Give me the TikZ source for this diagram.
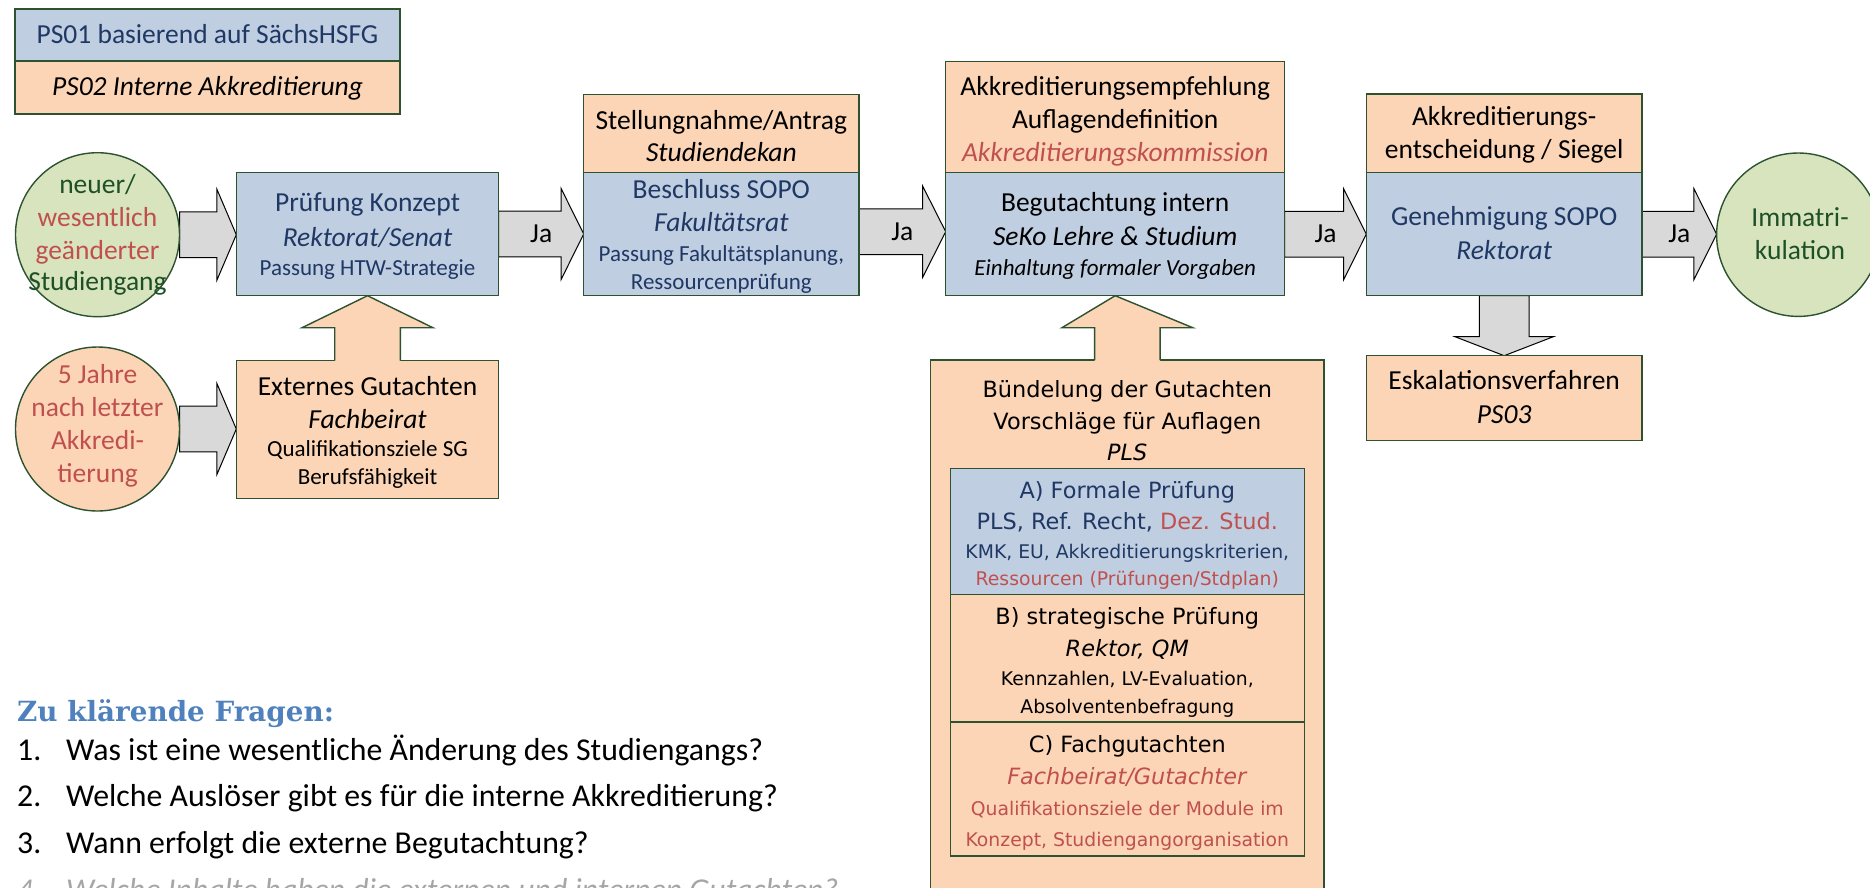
\documentclass[tikz,border=0pt]{standalone}
\usepackage{fontspec}
\setmainfont{Carlito}
\newfontfamily\verd{DejaVu Sans}
\newfontfamily\headf{DejaVu Serif}
\usetikzlibrary{calc}
\definecolor{bluef}{RGB}{192,206,226}
\definecolor{peachf}{RGB}{251,213,182}
\definecolor{greenf}{RGB}{215,228,189}
\definecolor{grayf}{RGB}{217,217,217}
\definecolor{edgec}{RGB}{44,82,48}
\definecolor{navyc}{RGB}{31,56,100}
\definecolor{redc}{RGB}{192,80,77}
\definecolor{greenc}{RGB}{30,80,40}
\definecolor{headc}{RGB}{79,129,189}
\definecolor{listgray}{RGB}{166,166,166}
\newcommand{\fA}{\fontsize{27.5}{33}\selectfont}
\newcommand{\fB}{\fontsize{23}{28}\selectfont}
\newcommand{\fV}{\verd\fontsize{22.4}{31.5}\selectfont}
\newcommand{\fVs}{\fontsize{18.8}{28}\selectfont}
\newcommand{\fL}{\fontsize{31.8}{38}\selectfont}
\newcommand{\tn}[5]{\node[#1] (#2) at (#3,{#4-24}) {\rule{0pt}{24pt}#5};}
\newcommand{\harrowb}[3]{%
  \draw[garrow] let \p1=#1, \p2=#2 in
  (\x1,\y1+22.8pt) -- (\x2-#3,\y1+22.8pt) -- (\x2-#3,\y1+45.5pt) -- (\x2,\y1)
  -- (\x2-#3,\y1-45.5pt) -- (\x2-#3,\y1-22.8pt) -- (\x1,\y1-22.8pt) -- cycle;}
\newcommand{\jalabel}[3]{%
  \path let \p1=#1, \p2=#2 in node[jalab] (#3) at ({(\x1+\x2)/2},{\y1-8.7pt}) {Ja};}
\newcommand{\peachup}[2]{%
  \fill[peachf] let \p1=#1, \p2=#2 in
  (\x1-32.8pt,\y1-2pt) -- (\x1-32.8pt,\y2-32pt) -- (\x1-65.4pt,\y2-32pt) -- (\x2,\y2)
  -- (\x1+65.4pt,\y2-32pt) -- (\x1+32.8pt,\y2-32pt) -- (\x1+32.8pt,\y1-2pt) -- cycle;
  \draw[edgeline] let \p1=#1, \p2=#2 in
  (\x1-32.8pt,\y1) -- (\x1-32.8pt,\y2-32pt) -- (\x1-65.4pt,\y2-32pt) -- (\x2,\y2)
  -- (\x1+65.4pt,\y2-32pt) -- (\x1+32.8pt,\y2-32pt) -- (\x1+32.8pt,\y1);}
\pgfdeclarelayer{bg}
\pgfsetlayers{bg,main}
\begin{document}
\begin{tikzpicture}[x=1pt,y=-1pt,
  box/.style={rectangle,inner sep=0pt,outer sep=0pt,draw=edgec,line width=1.4pt},
  bluebox/.style={box,fill=bluef},
  peachbox/.style={box,fill=peachf},
  circ/.style={circle,inner sep=0pt,outer sep=0pt,draw=edgec,line width=1.4pt},
  garrow/.style={fill=grayf,draw=black,line width=1pt,line join=miter},
  edgeline/.style={draw=edgec,line width=1.4pt,line join=miter},
  txt/.style={anchor=north,inner sep=0pt,outer sep=0pt,align=center,font=\fA},
  vtxt/.style={anchor=north,inner sep=0pt,outer sep=0pt,align=center,font=\fV},
  jalab/.style={anchor=base,inner sep=0pt,font=\fA},
  listitem/.style={anchor=base west,inner sep=0pt,font=\fL},
]
\useasboundingbox (0,0) rectangle (1870,887);
\clip (0,0) rectangle (1870,887);

% legend
\node[bluebox,minimum width=385,minimum height=52] (leg1) at (207.5,35) {};
\node[peachbox,minimum width=385,minimum height=53] (leg2) at (207.5,87.5) {};

% circles
\node[circ,fill=greenf,minimum size=164] (c1) at (97.5,234.7) {};
\node[circ,fill=peachf,minimum size=164] (c2) at (97.5,429) {};
\node[circ,fill=greenf,minimum size=163.4] (c3) at (1798.3,234.7) {};

% boxes
\node[bluebox,minimum width=262.4,minimum height=123.4] (pk) at (367.5,234) {};
\node[peachbox,minimum width=262.4,minimum height=137.6] (eg) at (367.5,429.5) {};
\node[peachbox,minimum width=275.3,minimum height=78.4] (st) at (721.35,133.5) {};
\node[bluebox,minimum width=275.3,minimum height=123] (bs) at (721.35,234.2) {};
\node[peachbox,minimum width=339,minimum height=111] (ak) at (1115.2,117.2) {};
\node[bluebox,minimum width=339,minimum height=123] (bi) at (1115.2,234.2) {};
\node[peachbox,minimum width=275.7,minimum height=78.7] (ae) at (1504.15,133.35) {};
\node[bluebox,minimum width=275.7,minimum height=123] (gs) at (1504.15,234.2) {};
\node[peachbox,minimum width=275.7,minimum height=84.6] (es) at (1504.15,398) {};
\node[peachbox,minimum width=393.3,minimum height=560] (pls) at (1127.35,640) {};
\node[bluebox,minimum width=354,minimum height=125.9] (pa) at (1127.3,531.65) {};
\node[peachbox,minimum width=354,minimum height=127.4] (pb) at (1127.3,658.3) {};
\node[peachbox,minimum width=354,minimum height=134] (pc) at (1127.3,789) {};

% grey block arrows (behind the boxes)
\begin{pgfonlayer}{bg}
\harrowb{(c1.east)}{(pk.west)}{19.4pt}
\harrowb{(c2.east)}{(eg.west)}{19.4pt}
\harrowb{(pk.east)}{(bs.west)}{22.6pt}
\harrowb{($(bs.east)+(0,-2.5)$)}{(bi.west)}{23pt}
\harrowb{(bi.east)}{(gs.west)}{22.7pt}
\harrowb{(gs.east)}{(c3.west)}{22.7pt}
\draw[garrow] let \p1=(gs.south), \p2=(es.north) in
  (\x1-24.85pt,\y1) -- (\x1-24.85pt,\y2+19pt) -- (\x1-49.15pt,\y2+19pt) -- (\x2,\y2)
  -- (\x1+49.15pt,\y2+19pt) -- (\x1+24.85pt,\y2+19pt) -- (\x1+24.85pt,\y1) -- cycle;
\end{pgfonlayer}

% peach up arrows merged with their boxes
\peachup{(eg.north)}{(pk.south)}
\peachup{(pls.north)}{(bi.south)}

% Ja labels
\jalabel{(pk.east)}{(bs.west)}{ja1}
\jalabel{($(bs.east)+(0,-2.5)$)}{(bi.west)}{ja2}
\jalabel{(bi.east)}{(gs.west)}{ja3}
\jalabel{(gs.east)}{(c3.west)}{ja4}

% texts
\tn{txt,text=navyc}{leg1t}{207.5}{43.3}{PS01 basierend auf SächsHSFG}
\tn{txt}{leg2t}{207.5}{95}{\textit{PS02 Interne Akkreditierung}}
\tn{txt,text=greenc}{c1t}{97.5}{193}{neuer/\\\textcolor{redc}{wesentlich}\\\textcolor{redc}{geänderter}\\[-1.3pt]Studiengang}
\tn{txt,text=redc}{c2t}{97.5}{383}{5 Jahre\\nach letzter\\Akkredi-\\tierung}
\tn{txt,text=greenc}{c3t}{1800}{226.7}{Immatri-\\[-0.4pt]kulation}
\tn{txt,text=navyc}{pkt}{367.5}{211.7}{Prüfung Konzept\\[1.3pt]\textit{Rektorat/Senat}\\[-4pt]{\fB Passung HTW-Strategie}}
\tn{txt}{egt}{367.5}{395}{Externes Gutachten\\[0.3pt]\textit{Fachbeirat}\\[-4.6pt]{\fB Qualifikationsziele SG}\\[-5.4pt]{\fB Berufsfähigkeit}}
\tn{txt}{stt}{721.35}{129.3}{Stellungnahme/Antrag\\[-1.3pt]\textit{Studiendekan}}
\tn{txt,text=navyc}{bst}{721.35}{198.3}{Beschluss SOPO\\[0.4pt]\textit{Fakultätsrat}\\[-3.7pt]{\fB Passung Fakultätsplanung,}\\[-5pt]{\fB Ressourcenprüfung}}
\tn{txt}{akt}{1115.2}{95}{Akkreditierungsempfehlung\\[0.3pt]Auflagendefinition\\[0.4pt]\textcolor{redc}{\textit{Akkreditierungskommission}}}
\tn{txt}{bit}{1115.2}{211.7}{Begutachtung intern\\[0.3pt]\textit{SeKo Lehre \& Studium}\\[-3pt]{\fB\itshape Einhaltung formaler Vorgaben}}
\tn{txt}{aet}{1504.15}{125}{Akkreditierungs-\\[0.3pt]entscheidung / Siegel}
\tn{txt,text=navyc}{gst}{1504.15}{225.7}{Genehmigung SOPO\\[0.6pt]\textit{Rektorat}}
\tn{txt}{est}{1504.15}{389.3}{Eskalationsverfahren\\[1pt]\textit{PS03}}
\tn{vtxt}{plst}{1127.3}{397.3}{Bündelung der Gutachten\\[0.7pt]Vorschläge für Auflagen\\[-0.9pt]\textit{PLS}}
\tn{vtxt,text=navyc}{pat}{1127.3}{498.5}{A) Formale Prüfung\\[-0.1pt]PLS, Ref. Recht, \textcolor{redc}{Dez. Stud.}\\[-3.3pt]{\fVs KMK, EU, Akkreditierungskriterien,}\\[-4pt]{\fVs\color{redc}Ressourcen (Prüfungen/Stdplan)}}
\tn{vtxt}{pbt}{1127.3}{624.8}{B) strategische Prüfung\\[-0.1pt]\textit{Rektor, QM}\\[-2.1pt]{\fVs Kennzahlen, LV-Evaluation,}\\[-4.1pt]{\fVs Absolventenbefragung}}
\tn{vtxt}{pct}{1127.3}{752.2}{C) Fachgutachten\\[1.1pt]\textcolor{redc}{\textit{Fachbeirat/Gutachter}}\\[-1.3pt]{\fVs\color{redc}Qualifikationsziele der Module im}\\[-0.2pt]{\fVs\color{redc}Konzept, Studiengangorganisation}}

% questions
\node[anchor=base west,inner sep=0pt,font=\headf\bfseries\fontsize{27.8}{33}\selectfont,text=headc] (hd) at (17,721.7) {Zu klärende Fragen:};
\node[listitem] (q1) at (17,760) {\makebox[49pt][l]{1.}Was ist eine wesentliche Änderung des Studiengangs?};
\node[listitem] (q2) at (17,806.7) {\makebox[49pt][l]{2.}Welche Auslöser gibt es für die interne Akkreditierung?};
\node[listitem] (q3) at (17,853.3) {\makebox[49pt][l]{3.}Wann erfolgt die externe Begutachtung?};
\node[listitem,text=listgray,font=\fL\itshape] (q4) at (17,900) {\makebox[49pt][l]{4.}Welche Inhalte haben die externen und internen Gutachten?};
\end{tikzpicture}
\end{document}
